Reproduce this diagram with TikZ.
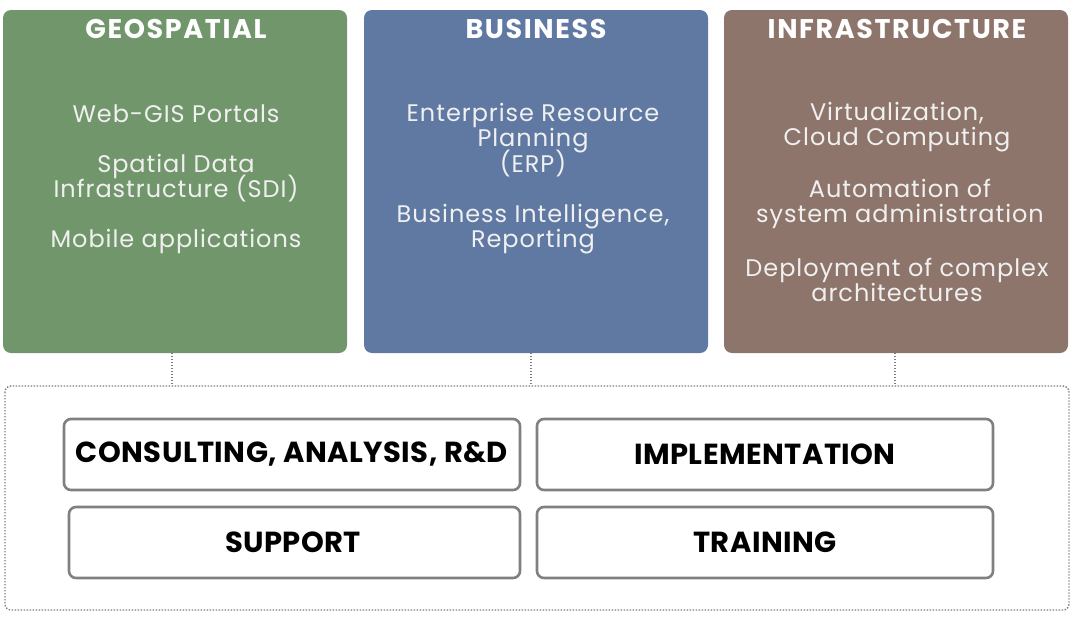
\documentclass[tikz,border=0pt]{standalone}
\usepackage{fontspec}
\setmainfont{Poppins}
\newfontfamily\headfont[LetterSpace=6]{Poppins}
\newfontfamily\itemfont[LetterSpace=4]{Poppins}
\newfontfamily\labelfont[LetterSpace=1.5]{Poppins}
\newcommand\tightlines{\lineskiplimit=-30pt\relax\lineskip=0pt\relax}
\definecolor{geogreen}{RGB}{114,150,108}
\definecolor{busblue}{RGB}{96,121,163}
\definecolor{infbrown}{RGB}{142,117,107}
\definecolor{frame}{RGB}{128,128,128}
\definecolor{dotgray}{RGB}{120,126,134}
\begin{document}
\begin{tikzpicture}[x=1pt,y=-1pt,
  column/.style={rounded corners=8pt, draw=none},
  heading/.style={text=white, font=\headfont\fontsize{27}{30}\bfseries\selectfont, inner sep=0pt},
  item/.style={text=white!94!black, font=\itemfont\fontsize{24}{25.5}\selectfont\tightlines,
    align=center, inner sep=0pt},
  service/.style={draw=frame, line width=2.6pt, rounded corners=7pt, fill=white},
  servicelabel/.style={font=\labelfont\fontsize{29}{32}\bfseries\selectfont, inner sep=0pt},
  link/.style={draw=dotgray, line width=1.4pt, dash pattern=on 1.4pt off 1.6pt}]
\useasboundingbox (0,0) rectangle (1073,637);

% three domain columns
\fill[column, fill=geogreen] (3,10) rectangle (347,353);
\fill[column, fill=busblue] (364,10) rectangle (708,353);
\fill[column, fill=infbrown] (724,10) rectangle (1068,353);
\coordinate (geo) at (172,353);
\coordinate (bus) at (531,353);
\coordinate (inf) at (895,353);

\node[heading] (geoT) at (176,29) {GEOSPATIAL};
\node[heading] (busT) at (536,29) {BUSINESS};
\node[heading] (infT) at (897,29) {INFRASTRUCTURE};

\node[item] (g1) at (176,114) {Web-GIS Portals};
\node[item] (g2) at (176,178) {Spatial Data\\Infrastructure (SDI)};
\node[item] (g3) at (176,241) {Mobile applications};

\node[item] (b1) at (533,140) {Enterprise Resource\\Planning\\(ERP)};
\node[item] (b2) at (533,229) {Business Intelligence,\\Reporting};

\node[item] (i1) at (897,127) {Virtualization,\\Cloud Computing};
\node[item] (i2) at (900,204) {Automation of\\system administration};
\node[item] (i3) at (897,280) {Deployment of complex\\architectures};

% services frame
\draw[link, rounded corners=6pt] (5,386) rectangle (1069,610);
\coordinate (geoB) at (172,386);
\coordinate (busB) at (531,386);
\coordinate (infB) at (895,386);
\draw[link] (geo) -- (geoB);
\draw[link] (bus) -- (busB);
\draw[link] (inf) -- (infB);

\draw[service] (64,419) rectangle (520,490);
\draw[service] (537,419) rectangle (993,490);
\draw[service] (69,507) rectangle (520,578);
\draw[service] (537,507) rectangle (993,578);
\node[servicelabel] (s1) at (292,454) {CONSULTING, ANALYSIS, R\&D};
\node[servicelabel] (s2) at (765,454) {IMPLEMENTATION};
\node[servicelabel] (s3) at (293,542) {SUPPORT};
\node[servicelabel] (s4) at (765,542) {TRAINING};
\end{tikzpicture}
\end{document}
